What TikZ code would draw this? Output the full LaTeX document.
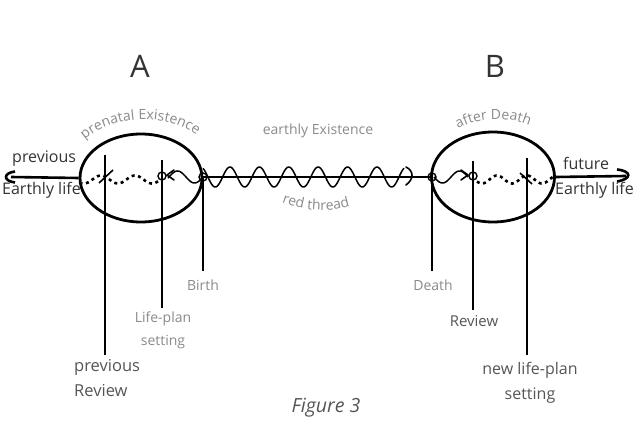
\documentclass[tikz,border=0pt]{standalone}
\usepackage{fontspec}
\setmainfont{Open Sans}
\usetikzlibrary{decorations.text,shapes.geometric,arrows.meta}
\definecolor{lgray}{HTML}{8A8A8A}
\definecolor{mgray}{HTML}{555555}
\definecolor{dgray}{HTML}{333333}
\begin{document}
\begin{tikzpicture}[x=1pt,y=-1pt,
  lbl/.style={font=\fontsize{14}{23}\selectfont, text=lgray, inner sep=0pt, align=center},
  lblb/.style={font=\fontsize{16}{25}\selectfont, text=mgray, inner sep=0pt, align=center},
  thick line/.style={line width=2.8pt},
  thin line/.style={line width=1.8pt},
  marker/.style={circle, draw, line width=1.4pt, minimum size=8pt, inner sep=0pt},
  wave/.style={line width=1.5pt},
  tip/.style={line width=1.6pt, line cap=round, line join=round},
  dotwave/.style={line width=2.6pt, dash pattern=on 3pt off 3.5pt},
]
\useasboundingbox (0,0) rectangle (644,430);
% titles
\node[font=\fontsize{31}{31}\selectfont, text=dgray] (A) at (140,66) {A};
\node[font=\fontsize{31}{31}\selectfont, text=dgray] (B) at (495,66) {B};
% ellipses
\node[draw, ellipse, line width=2.8pt, minimum width=122pt, minimum height=88pt, inner sep=0pt] (E1) at (141,178) {};
\node[draw, ellipse, line width=2.8pt, minimum width=123pt, minimum height=90pt, inner sep=0pt] (E2) at (493,177) {};
% markers
\node[marker] (lp) at (162,176) {};
\node[marker] (bi) at (203,177) {};
\node[marker] (de) at (432,177) {};
\node[marker] (rv) at (473,176) {};
% horizontal lines
\coordinate (lend) at (11,177);
\coordinate (rend) at (626,176);
\draw[line width=2.6pt] (lend) -- (E1.west);
\draw[line width=2.6pt] (bi.center) -- (de.center);
\draw[line width=2.6pt] (E2.east) -- (rend);
% end hooks
\draw[line width=2.6pt] (15,171.5) .. controls (3,173) and (3,181) .. (15,182.5);
\draw[line width=2.6pt] (617,169.5) .. controls (632,171) and (632,179) .. (617,181.5);
% vertical lines
\coordinate (prT) at (105,155); \coordinate (prB) at (105,355);
\coordinate (lpT) at (162,160); \coordinate (lpB) at (162,308);
\coordinate (biB) at (203,271);
\coordinate (deB) at (432,271);
\coordinate (rvT) at (473,161); \coordinate (rvB) at (473,310);
\coordinate (nlT) at (527,158); \coordinate (nlB) at (527,355);
\draw[thick line] (prT) -- (prB);
\draw[thin line] (lpT) -- (lpB);
\draw[thick line] (bi.center) -- (biB);
\draw[thick line] (de.center) -- (deB);
\draw[thin line] (rvT) -- (rvB);
\draw[thick line] (nlT) -- (nlB);
% small crosses
\draw[line width=1.6pt] (99,183) -- (113,170);
\draw[line width=1.6pt] (520,173) -- (532,184);
% main wave with curved tip
\draw[wave] plot[domain=203:404, samples=220, smooth] (\x,{177-10*sin((\x-222.6)/29.4*360)});
\draw[tip] (406,167) .. controls (414,171) and (414,179) .. (406,185);
% left inner wave to life-plan
\draw[wave] plot[domain=203:168, samples=60, smooth] (\x,{177-6*sin((\x-203)/34*360)});
\draw[tip] (174,170) -- (167,175) -- (174,180);
% right inner wave to review
\draw[wave] plot[domain=434:468, samples=60, smooth] (\x,{177+6*sin((\x-434)/34*360)});
\draw[tip] (461,170) -- (468,175) -- (461,180);
% dotted waves
\draw[dotwave] plot[domain=158:82, samples=80, smooth] (\x,{179.5-4*sin((\x-126.5)/34*360)});
\draw[dotwave] plot[domain=477:553, samples=80, smooth] (\x,{179.5+4*sin((\x-474.5)/30*360)});
% curved labels
\path[decorate, decoration={text along path, text align=center,
  text={|\fontsize{14}{14}\selectfont\color{lgray}|prenatal Existence}}]
  (76,150) .. controls (100,112) and (178,108) .. (206,145);
\path[decorate, decoration={text along path, text align=center,
  text={|\fontsize{14}{14}\selectfont\color{lgray}|after Death}}]
  (450,134) .. controls (472,116) and (512,114) .. (538,130);
\path[decorate, decoration={text along path, text align=center,
  text={|\fontsize{14}{14}\selectfont\color{lgray}|red thread}}]
  (274,199) .. controls (300,212) and (335,214) .. (358,203);
% straight labels
\node[lbl] (ee) at (318,131) {earthly Existence};
\node[lbl] (birth) at (203,285) {Birth};
\node[lbl] (death) at (433,285) {Death};
\node[lbl] (lps) at (163,330) {Life-plan\\setting};
\node[lblb, align=left, anchor=west, font=\fontsize{16.5}{25}\selectfont] (prr) at (74,378) {previous\\Review};
\node[lblb, font=\fontsize{15}{23}\selectfont] (rev) at (474,321) {Review};
\node[lblb] (nlp) at (530,383) {new life-plan\\setting};
\node[font=\fontsize{19.5}{19.5}\selectfont\itshape, text=mgray] (fig) at (326,408) {Figure 3};
\node[lblb, text=dgray, anchor=west] (prev) at (12,159) {previous};
\node[lblb, text=dgray, anchor=west] (el1) at (2,190) {Earthly life};
\node[lblb, text=dgray, anchor=west] (fut) at (563,163) {future};
\node[lblb, text=dgray, anchor=west] (el2) at (555,190) {Earthly life};
\end{tikzpicture}
\end{document}
